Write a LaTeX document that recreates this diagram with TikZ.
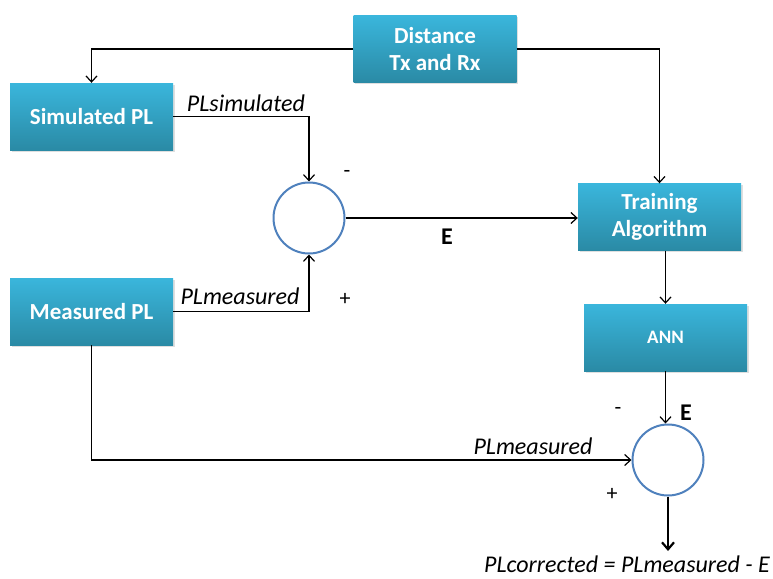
\documentclass[tikz,border=0pt]{standalone}
\usepackage{fontspec}
\setmainfont{Carlito}
\usetikzlibrary{arrows.meta,shadows}

\definecolor{boxtop}{HTML}{3AB6DC}
\definecolor{boxbot}{HTML}{2A8AA5}
\definecolor{ringblue}{HTML}{4F81BD}

\tikzset{
  block/.style={rectangle, minimum width=163pt, minimum height=67pt, top color=boxtop, bottom color=boxbot,
    text=white, font=\fontsize{23}{27}\selectfont\bfseries, align=center, inner sep=0pt,
    drop shadow={shadow xshift=1.5pt, shadow yshift=-1.5pt, opacity=0.25}},
  summer/.style={circle, draw=ringblue, line width=2pt, fill=white, minimum size=71pt, inner sep=0pt},
  arr/.style={line width=1.2pt, -{Straight Barb[length=6pt,width=11pt]}},
  lab/.style={font=\fontsize{24}{28}\selectfont\itshape, inner sep=0pt},
  sgn/.style={font=\fontsize{22}{26}\selectfont, inner sep=0pt}
}

\begin{document}
\begin{tikzpicture}[x=1pt,y=-1pt]
\useasboundingbox (0,0) rectangle (773,578);
% blocks
\node[block] (dist) at (435,49) {Distance\\Tx and Rx};
\node[block] (sim) at (91.5,116.5) {Simulated PL};
\node[block] (meas) at (91.5,311.5) {Measured PL};
\node[block] (train) at (659.5,217) {Training\\Algorithm};
\node[block, font=\fontsize{19}{23}\selectfont\bfseries] (ann) at (665.5,337.5) {ANN};
% summing points
\node[summer] (sum1) at (309,218) {};
\node[summer] (sum2) at (668,460) {};
\coordinate (out) at (668,551);
% connections
\draw[arr] (dist.west) -| (sim.north);
\draw[arr] (dist.east) -| (train.north);
\draw[arr] (sim.east) -| (sum1.north);
\draw[arr] (meas.east) -| (sum1.south);
\draw[arr] (sum1.east) -- (sum1.east -| train.west);
\draw[arr] (ann.north |- train.south) -- (ann.north);
\draw[arr] (ann.south) -- (ann.south |- sum2.north);
\draw[arr] (meas.south) |- (sum2.west);
\draw[line width=2.2pt, -{Straight Barb[length=7pt,width=12pt]}] (sum2.south) -- (out);
% labels
\node[lab] (lsim) at (246,103) {PLsimulated};
\node[lab] (lmeas) at (240,296) {PLmeasured};
\node[lab] (lmeas2) at (533,446) {PLmeasured};
\node[lab] (lcorr) at (627,564) {PLcorrected = PLmeasured - E};
\node[sgn] (m1) at (347,174) {-};
\node[sgn] (p1) at (345,299) {+};
\node[sgn] (m2) at (618,411) {-};
\node[sgn] (p2) at (612,494) {+};
\node[font=\fontsize{24}{28}\selectfont\bfseries, inner sep=0pt] (e1) at (447,237) {E};
\node[font=\fontsize{24}{28}\selectfont\bfseries, inner sep=0pt] (e2) at (686,413) {E};
\end{tikzpicture}
\end{document}
